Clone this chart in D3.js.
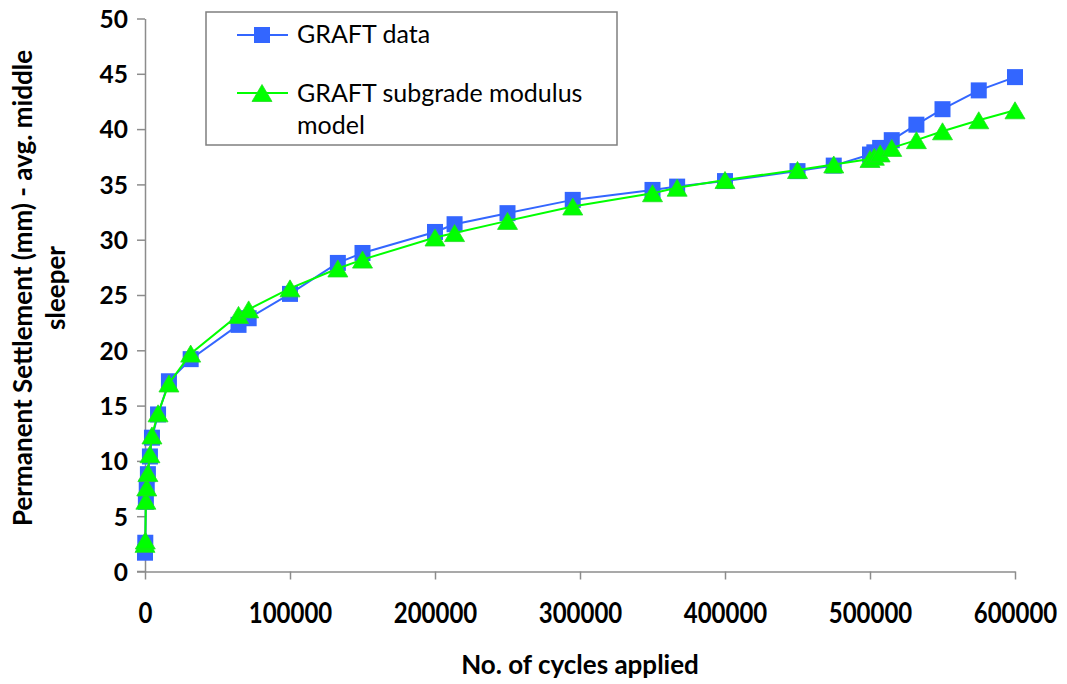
<!DOCTYPE html>
<html>
<head>
<meta charset="utf-8">
<script src="https://cdn.jsdelivr.net/npm/d3@7"></script>
<style>
  html, body { margin: 0; padding: 0; background: #fff; }
  svg { display: block; }
  text { font-family: Lato, "Open Sans", "Liberation Sans", sans-serif; }
</style>
</head>
<body>
<svg id="chart" width="1067" height="684"></svg>
<script>
// ---- data ----
const cycles = [0, 200, 600, 1200, 2000, 3400, 4800, 9000, 16500, 31500, 64500, 71500, 100000, 133000, 150000, 200000, 213500, 250000, 295000, 350000, 367000, 400000, 450000, 475000, 500000, 503000, 507000, 515000, 532000, 550000, 575000, 600000];
const graftData = [1.7, 2.6, 6.3, 7.6, 8.8, 10.4, 12.1, 14.2, 17.2, 19.2, 22.3, 22.9, 25.1, 27.9, 28.8, 30.7, 31.4, 32.4, 33.6, 34.5, 34.8, 35.3, 36.2, 36.7, 37.7, 37.9, 38.3, 39.0, 40.4, 41.8, 43.5, 44.7];
const modelData = [2.5, 2.8, 6.4, 7.6, 8.9, 10.6, 12.3, 14.3, 17.0, 19.7, 23.2, 23.7, 25.6, 27.4, 28.2, 30.2, 30.6, 31.7, 33.0, 34.2, 34.7, 35.4, 36.3, 36.8, 37.3, 37.5, 37.8, 38.3, 39.0, 39.8, 40.8, 41.7];
const xTicks = [0, 100000, 200000, 300000, 400000, 500000, 600000];
const yTicks = [0, 5, 10, 15, 20, 25, 30, 35, 40, 45, 50];
const seriesNames = ["GRAFT data", "GRAFT subgrade modulus model"];
const xTitle = "No. of cycles applied";
const yTitleLines = ["Permanent Settlement (mm) - avg. middle", "sleeper"];

// ---- layout ----
const svg = d3.select("#chart");
const mLeft = 145, mRight = 1015, mTop = 18.5, mBottom = 571.5;
const x = d3.scaleLinear().domain([0, 600000]).range([mLeft, mRight]);
const y = d3.scaleLinear().domain([0, 50]).range([mBottom, mTop]);
const axisColor = "#8c8c8c";
const blue = "#3366ff", green = "#00ff00";

// axes
const xAxis = svg.append("g").attr("transform", `translate(0,${mBottom})`)
  .call(d3.axisBottom(x).tickValues(xTicks).tickSize(8).tickSizeOuter(0).tickFormat(d3.format("d")));
const yAxis = svg.append("g").attr("transform", `translate(${mLeft},0)`)
  .call(d3.axisLeft(y).tickValues(yTicks).tickSize(8).tickSizeOuter(0).tickFormat(d3.format("d")));
[xAxis, yAxis].forEach(g => {
  g.select(".domain").attr("stroke", axisColor).attr("stroke-width", 1.5);
  g.selectAll(".tick line").attr("stroke", axisColor).attr("stroke-width", 1.5);
  g.selectAll(".tick text").attr("fill", "#000").attr("font-weight", "bold");
});
svg.append("line").attr("x1", mLeft - 8).attr("x2", mLeft).attr("y1", mBottom).attr("y2", mBottom)
  .attr("stroke", axisColor).attr("stroke-width", 1.5);
xAxis.selectAll(".tick text").attr("font-size", 24).attr("dy", 0).attr("y", 0)
  .attr("transform", "translate(0,51) scale(1,1.2)");
yAxis.selectAll(".tick text").attr("font-size", 24.5).attr("x", -17).attr("dy", "0.36em");

// axis titles
svg.append("text").attr("x", (mLeft + mRight) / 2).attr("y", 674)
  .attr("text-anchor", "middle").attr("font-size", 26).attr("font-weight", "bold").text(xTitle);
const yt = svg.append("text").attr("transform", `translate(32,288) rotate(-90)`)
  .attr("text-anchor", "middle").attr("font-size", 26).attr("font-weight", "bold");
yTitleLines.forEach((t, i) => yt.append("tspan").attr("x", 0).attr("dy", i === 0 ? 0 : 33).text(t));

// markers
const sq = 16, tw = 20, th = 17;
function trianglePath(cx, cy) {
  return `M${cx},${cy - th / 2}L${cx + tw / 2},${cy + th / 2}L${cx - tw / 2},${cy + th / 2}Z`;
}
const line = d3.line().x(d => x(d[0])).y(d => y(d[1]));

const s1 = cycles.map((c, i) => [c, graftData[i]]);
const s2 = cycles.map((c, i) => [c, modelData[i]]);

svg.append("path").datum(s1).attr("d", line).attr("fill", "none").attr("stroke", blue).attr("stroke-width", 2);
svg.append("g").selectAll("rect").data(s1).join("rect")
  .attr("x", d => x(d[0]) - sq / 2).attr("y", d => y(d[1]) - sq / 2)
  .attr("width", sq).attr("height", sq).attr("fill", blue);

svg.append("path").datum(s2).attr("d", line).attr("fill", "none").attr("stroke", green).attr("stroke-width", 2);
svg.append("g").selectAll("path").data(s2).join("path")
  .attr("d", d => trianglePath(x(d[0]), y(d[1])))
  .attr("fill", green).attr("stroke", "#22dd22").attr("stroke-width", 0.8);

// legend
const lg = svg.append("g");
lg.append("rect").attr("x", 206).attr("y", 12).attr("width", 411).attr("height", 133)
  .attr("fill", "#fff").attr("stroke", "#7f7f7f").attr("stroke-width", 1.5);
lg.append("line").attr("x1", 237).attr("x2", 288).attr("y1", 35).attr("y2", 35).attr("stroke", blue).attr("stroke-width", 2);
lg.append("rect").attr("x", 262 - sq / 2).attr("y", 35 - sq / 2).attr("width", sq).attr("height", sq).attr("fill", blue);
lg.append("text").attr("x", 297).attr("y", 43).attr("font-size", 25).text(seriesNames[0]);
lg.append("line").attr("x1", 237).attr("x2", 288).attr("y1", 93).attr("y2", 93).attr("stroke", green).attr("stroke-width", 2);
lg.append("path").attr("d", trianglePath(262, 93)).attr("fill", green).attr("stroke", "#22dd22").attr("stroke-width", 0.8);
const lt = lg.append("text").attr("x", 297).attr("y", 102).attr("font-size", 25);
lt.append("tspan").attr("x", 297).attr("dy", 0).text("GRAFT subgrade modulus");
lt.append("tspan").attr("x", 297).attr("dy", 32).text("model");
</script>
</body>
</html>
